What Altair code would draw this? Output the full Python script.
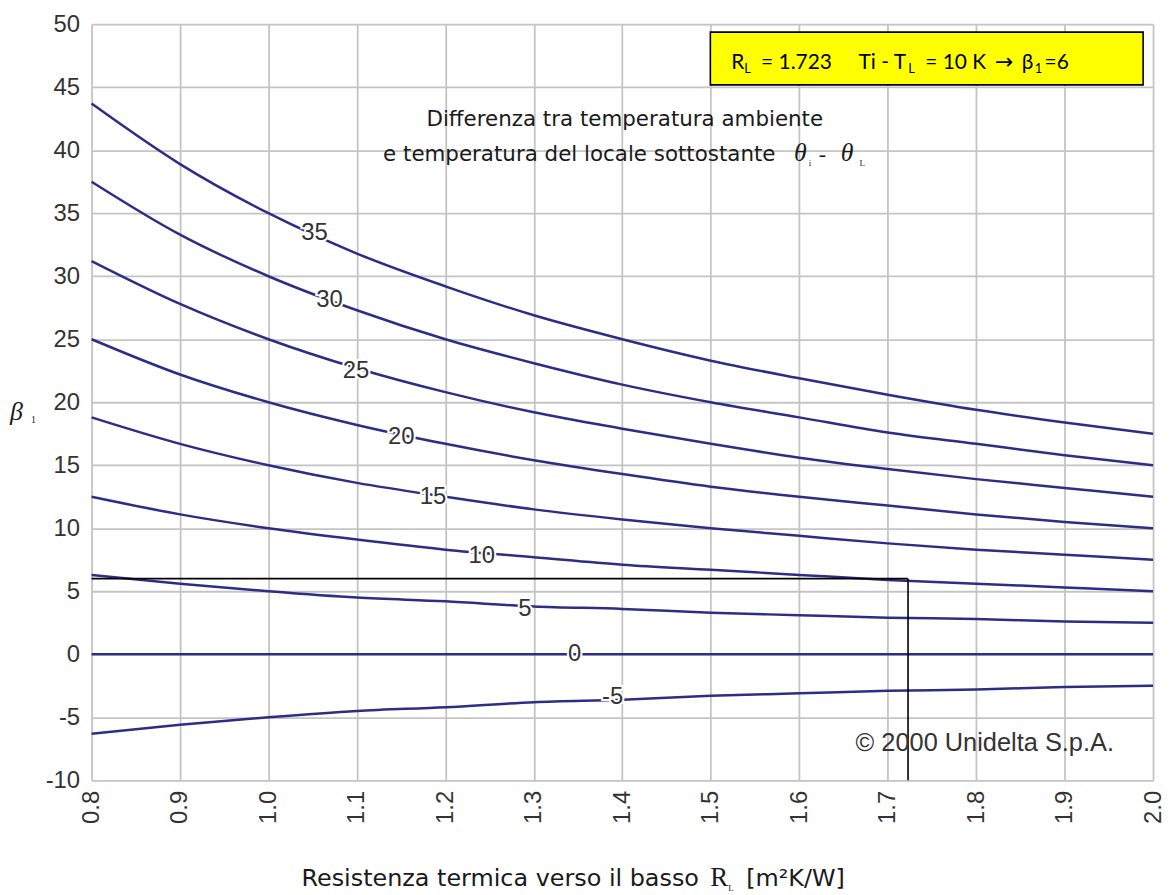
import altair as alt
import pandas as pd

# ---- data ----
r_values = [0.8, 0.9, 1.0, 1.1, 1.2, 1.3, 1.4, 1.5, 1.6, 1.7, 1.8, 1.9, 2.0]
curves = {
    35: [43.7, 38.9, 35.0, 31.8, 29.2, 26.9, 25.0, 23.3, 21.9, 20.6, 19.4, 18.4, 17.5],
    30: [37.5, 33.3, 30.0, 27.3, 25.0, 23.1, 21.4, 20.0, 18.8, 17.6, 16.7, 15.8, 15.0],
    25: [31.2, 27.8, 25.0, 22.7, 20.8, 19.2, 17.9, 16.7, 15.6, 14.7, 13.9, 13.2, 12.5],
    20: [25.0, 22.2, 20.0, 18.2, 16.7, 15.4, 14.3, 13.3, 12.5, 11.8, 11.1, 10.5, 10.0],
    15: [18.8, 16.7, 15.0, 13.6, 12.5, 11.5, 10.7, 10.0, 9.4, 8.8, 8.3, 7.9, 7.5],
    10: [12.5, 11.1, 10.0, 9.1, 8.3, 7.7, 7.1, 6.7, 6.3, 5.9, 5.6, 5.3, 5.0],
    5: [6.3, 5.6, 5.0, 4.5, 4.2, 3.8, 3.6, 3.3, 3.1, 2.9, 2.8, 2.6, 2.5],
    0: [0.0, 0.0, 0.0, 0.0, 0.0, 0.0, 0.0, 0.0, 0.0, 0.0, 0.0, 0.0, 0.0],
    -5: [-6.3, -5.6, -5.0, -4.5, -4.2, -3.8, -3.6, -3.3, -3.1, -2.9, -2.8, -2.6, -2.5],
}
label_texts = ["35", "30", "25", "20", "15", "10", "5", "0", "-5"]
label_r = [1.052, 1.069, 1.099, 1.150, 1.186, 1.241, 1.290, 1.346, 1.389]
label_beta = [33.4, 28.1, 22.5, 17.2, 12.5, 7.8, 3.6, 0.0, -3.4]
x_ticks = [0.8, 0.9, 1.0, 1.1, 1.2, 1.3, 1.4, 1.5, 1.6, 1.7, 1.8, 1.9, 2.0]
y_ticks = [-10, -5, 0, 5, 10, 15, 20, 25, 30, 35, 40, 45, 50]
sel_r = 1.723
sel_beta = 6

rows = []
for dt, vals in curves.items():
    for r, b in zip(r_values, vals):
        rows.append({"R": r, "beta": b, "dT": dt})
df = pd.DataFrame(rows)
lab = pd.DataFrame({"R": label_r, "beta": label_beta, "t": label_texts})
guide = pd.DataFrame({"x": [0.8, sel_r], "x2": [sel_r, sel_r],
                      "y": [sel_beta, -10], "y2": [sel_beta, sel_beta]})

W, H = 1067, 760
X0, Y0 = 92, 22  # page position of plot origin

xs = alt.Scale(domain=[0.8, 2.0], nice=False, zero=False)
ys = alt.Scale(domain=[-10, 50], nice=False)

lines = alt.Chart(df).mark_line(color="#2d2d87", strokeWidth=2.5, interpolate="monotone").encode(
    x=alt.X("R:Q", scale=xs,
            axis=alt.Axis(values=x_ticks, format=".1f", labelAngle=270, title=None,
                          labelFontSize=24, labelFont="Liberation Sans", labelColor="#333",
                          labelPadding=10, ticks=False, domain=False,
                          gridColor="#c4c4c4", gridWidth=1.8)),
    y=alt.Y("beta:Q", scale=ys,
            axis=alt.Axis(values=y_ticks, title=None, labelFontSize=24,
                          labelFont="Liberation Sans", labelColor="#333",
                          labelExpr="replace(datum.label, '\u2212', '-')",
                          labelPadding=12, ticks=False, domain=False,
                          gridColor="#c4c4c4", gridWidth=1.8)),
    detail="dT:N",
)

halo = alt.Chart(lab).mark_text(font="Liberation Sans", fontSize=24, stroke="white",
                                strokeWidth=4, color="white").encode(
    x=alt.X("R:Q", scale=xs), y=alt.Y("beta:Q", scale=ys), text="t:N")
labels = alt.Chart(lab).mark_text(font="Liberation Sans", fontSize=24, color="#333").encode(
    x=alt.X("R:Q", scale=xs), y=alt.Y("beta:Q", scale=ys), text="t:N")

guides = alt.Chart(guide).mark_rule(color="black", strokeWidth=1.6).encode(
    x=alt.X("x:Q", scale=xs), x2="x2:Q", y=alt.Y("y:Q", scale=ys), y2="y2:Q")

dummy = pd.DataFrame({"a": [0]})


def ptext(txt, px, py, size, font, color="#1a1a1a", style="normal", align="left"):
    return alt.Chart(dummy).mark_text(
        text=txt, align=align, baseline="alphabetic", font=font, fontSize=size,
        fontStyle=style, color=color).encode(x=alt.value(px - X0), y=alt.value(py - Y0))


box = alt.Chart(dummy).mark_rect(fill="#ffff00", stroke="black", strokeWidth=1.6).encode(
    x=alt.value(714 - X0), x2=alt.value(1149 - X0), y=alt.value(30 - Y0), y2=alt.value(83 - Y0))

bf = "Lato"
sf = "DejaVu Sans"
texts = [
    # yellow box text
    ptext("R", 735, 67, 21, bf, "black"),
    ptext("L", 748, 71, 13, bf, "black"),
    ptext("= 1.723", 765, 67, 21, bf, "black"),
    ptext("Ti - T", 863, 67, 21, bf, "black"),
    ptext("L", 913, 71, 13, bf, "black"),
    ptext("= 10 K", 930, 67, 21, bf, "black"),
    ptext("\u2192", 1000, 67, 22, "DejaVu Sans", "black"),
    ptext("\u03b2", 1027, 67, 21, bf, "black"),
    ptext("1", 1040, 71, 13, bf, "black"),
    ptext("=6", 1050, 67, 21, bf, "black"),
    # in-plot caption
    ptext("Differenza tra temperatura ambiente", 628, 124, 21.5, sf, align="center"),
    ptext("e temperatura del locale sottostante", 385, 160, 21.5, sf),
    ptext("\u03b8", 798, 160, 26, "Liberation Serif", style="italic"),
    ptext("i", 813, 165, 9, "Liberation Serif"),
    ptext("-", 823, 160, 22, "Liberation Serif"),
    ptext("\u03b8", 845, 160, 26, "Liberation Serif", style="italic"),
    ptext("L", 864, 165, 9, "Liberation Serif"),
    # copyright
    ptext("\u00a9 2000 Unidelta S.p.A.", 860, 753, 25.5, "Liberation Sans", "#333"),
    # y axis title
    ptext("\u03b2", 10, 420, 26, "Liberation Serif", style="italic"),
    ptext("1", 31, 423, 10, "Liberation Serif"),
    # x axis title
    ptext("Resistenza termica verso il basso", 303, 888, 24, sf),
    ptext("R", 714, 888, 27, "Liberation Serif"),
    ptext("L", 732, 893, 9, "Liberation Serif"),
    ptext("[m\u00b2K/W]", 750, 888, 24, sf),
]

chart = alt.layer(lines, guides, halo, labels, box, *texts).properties(
    width=W, height=H,
    autosize=alt.AutoSizeParams(type="none"),
    padding={"left": X0 - 8, "top": Y0 - 8, "right": 12, "bottom": 110},
).configure_view(stroke="#222", strokeWidth=2.5).configure(background="white")

chart.save("out.html", embed_options={"renderer": "svg", "actions": False})
